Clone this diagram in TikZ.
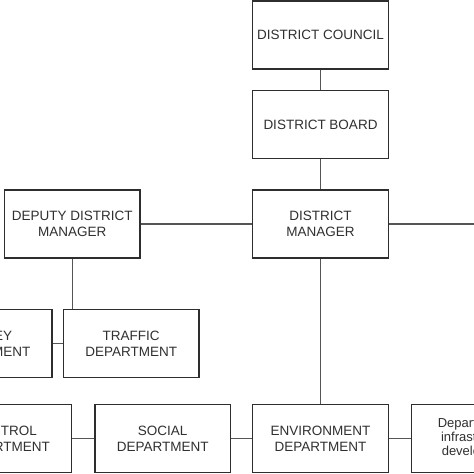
\documentclass[tikz,border=0pt]{standalone}
\usepackage{fontspec}
\setmainfont{Liberation Sans}
\definecolor{boxline}{HTML}{2E2E2E}
\definecolor{conline}{HTML}{555555}
\definecolor{txt}{HTML}{303030}
\begin{document}
\begin{tikzpicture}[x=1bp,y=-1bp,
  orgbox/.style={draw=boxline,line width=1.4bp,fill=white,minimum width=135.5bp,minimum height=68bp,
    inner sep=0pt,align=center,text=txt,font=\fontsize{13.5bp}{16bp}\selectfont},
  smallbox/.style={orgbox,font=\fontsize{13bp}{14bp}\selectfont},
  conn/.style={draw=conline,line width=1.3bp}]
\useasboundingbox (0,0) rectangle (474,474);
\fill[white] (0,0) rectangle (474,474);
\clip (0,0) rectangle (474,474);
\coordinate (rightend) at (474,224);
\node[orgbox] (council) at (320.5,35) {DISTRICT COUNCIL};
\node[orgbox] (board) at (320.5,124.5) {DISTRICT BOARD};
\node[orgbox] (dm) at (320.5,224) {DISTRICT\\MANAGER};
\node[orgbox] (deputy) at (72.2,224) {DEPUTY DISTRICT\\MANAGER};
\node[orgbox] (survey) at (-15.6,343.3) {SURVEY\\DEPARTMENT};
\node[orgbox] (traffic) at (131.2,343.3) {TRAFFIC\\DEPARTMENT};
\node[orgbox] (control) at (4,438.6) {CONTROL\\DEPARTMENT};
\node[orgbox] (social) at (162.7,438.6) {SOCIAL\\DEPARTMENT};
\node[orgbox] (env) at (320.5,438.6) {ENVIRONMENT\\DEPARTMENT};
\node[smallbox] (infra) at (479,438.6) {Department of\\infrastructure\\development};
\draw[conn] (council) -- (board);
\draw[conn] (board) -- (dm);
\draw[conn] (deputy) -- (dm);
\draw[conn] (dm.east) -- (rightend);
\draw[conn] (deputy.south) -- (deputy.south |- traffic.north);
\draw[conn] (survey) -- (traffic);
\draw[conn] (dm) -- (env);
\draw[conn] (control) -- (social);
\draw[conn] (social) -- (env);
\draw[conn] (env) -- (infra);
\end{tikzpicture}
\end{document}
